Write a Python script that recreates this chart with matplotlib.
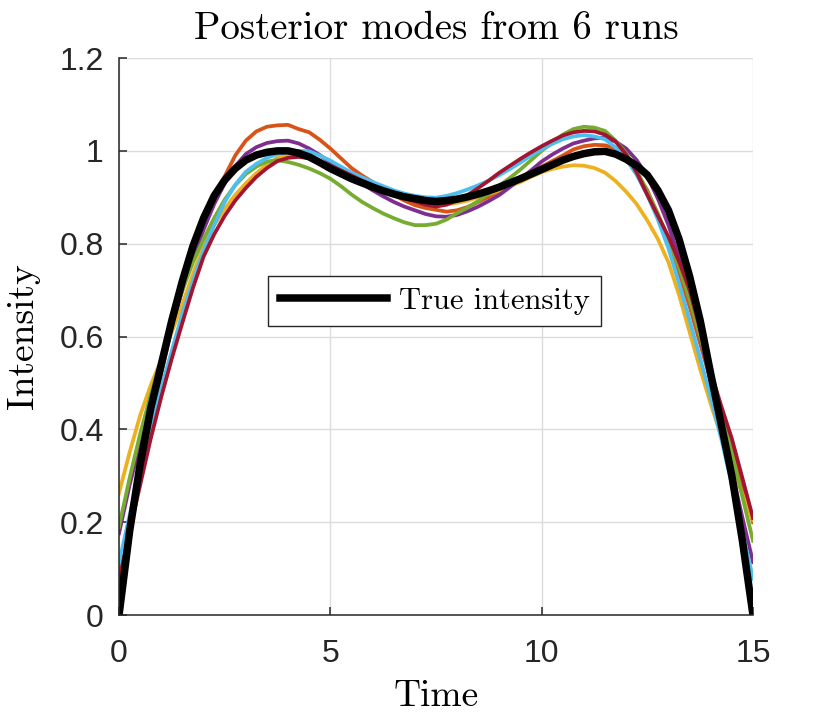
import numpy as np
import matplotlib
matplotlib.use('Agg')
import matplotlib.pyplot as plt
from matplotlib.ticker import FuncFormatter

# time grid of the curves (every 0.25)
t = np.arange(0, 15.001, 0.25)

true_intensity = [0, 0.18, 0.325, 0.445, 0.54, 0.635, 0.72, 0.795, 0.855, 0.903,
                  0.937, 0.962, 0.98, 0.991, 0.997, 1.0, 1.0, 0.995, 0.987, 0.975,
                  0.962, 0.951, 0.94, 0.931, 0.922, 0.914, 0.907, 0.901, 0.897, 0.893,
                  0.891, 0.893, 0.896, 0.901, 0.907, 0.914, 0.922, 0.931, 0.94, 0.95,
                  0.96, 0.97, 0.98, 0.988, 0.994, 0.998, 0.999, 0.993, 0.982, 0.968,
                  0.948, 0.915, 0.872, 0.81, 0.73, 0.635, 0.52, 0.41, 0.3, 0.16, 0]

run_orange = [0.09, 0.20, 0.30, 0.41, 0.52, 0.62, 0.71, 0.785, 0.845, 0.895,
              0.945, 0.99, 1.022, 1.042, 1.052, 1.055, 1.056, 1.047, 1.04, 1.024,
              1.005, 0.984, 0.963, 0.947, 0.933, 0.918, 0.905, 0.893, 0.883, 0.877,
              0.873, 0.869, 0.872, 0.879, 0.89, 0.901, 0.913, 0.928, 0.943, 0.955,
              0.966, 0.978, 0.99, 1.003, 1.01, 1.013, 1.012, 1.005, 0.982, 0.952,
              0.915, 0.862, 0.805, 0.735, 0.665, 0.585, 0.505, 0.43, 0.355, 0.28, 0.2]
run_yellow = [0.263, 0.35, 0.43, 0.495, 0.55, 0.61, 0.67, 0.735, 0.795, 0.84,
              0.875, 0.905, 0.93, 0.952, 0.97, 0.985, 0.99, 0.99, 0.985, 0.977,
              0.968, 0.957, 0.945, 0.935, 0.925, 0.915, 0.906, 0.899, 0.893, 0.888,
              0.884, 0.885, 0.888, 0.893, 0.9, 0.907, 0.915, 0.924, 0.933, 0.944,
              0.954, 0.961, 0.966, 0.969, 0.968, 0.963, 0.953, 0.935, 0.912, 0.885,
              0.85, 0.81, 0.76, 0.69, 0.61, 0.53, 0.455, 0.385, 0.32, 0.26, 0.205]
run_purple = [0.176, 0.28, 0.37, 0.46, 0.545, 0.625, 0.70, 0.77, 0.83, 0.885,
              0.93, 0.967, 0.993, 1.008, 1.017, 1.021, 1.022, 1.016, 1.005, 0.991,
              0.975, 0.96, 0.945, 0.93, 0.915, 0.902, 0.89, 0.88, 0.872, 0.864,
              0.859, 0.858, 0.862, 0.87, 0.88, 0.892, 0.905, 0.922, 0.94, 0.958,
              0.977, 0.992, 1.005, 1.016, 1.022, 1.027, 1.028, 1.02, 1.005, 0.98,
              0.945, 0.897, 0.84, 0.77, 0.69, 0.6, 0.5, 0.405, 0.31, 0.21, 0.114]
run_green = [0.19, 0.295, 0.39, 0.475, 0.55, 0.63, 0.70, 0.76, 0.81, 0.855,
             0.895, 0.926, 0.95, 0.966, 0.977, 0.98, 0.976, 0.97, 0.962, 0.952,
             0.94, 0.924, 0.906, 0.89, 0.877, 0.865, 0.855, 0.846, 0.84, 0.84,
             0.843, 0.852, 0.866, 0.878, 0.892, 0.908, 0.925, 0.942, 0.96, 0.98,
             1.0, 1.018, 1.035, 1.047, 1.052, 1.05, 1.043, 1.022, 0.995, 0.958,
             0.912, 0.865, 0.81, 0.75, 0.68, 0.6, 0.52, 0.435, 0.35, 0.255, 0.16]
run_lightblue = [0.112, 0.215, 0.31, 0.405, 0.49, 0.57, 0.65, 0.72, 0.785, 0.84,
                 0.89, 0.927, 0.955, 0.972, 0.985, 0.993, 0.998, 1.0, 0.999, 0.99,
                 0.979, 0.966, 0.953, 0.943, 0.933, 0.924, 0.915, 0.908, 0.903, 0.9,
                 0.899, 0.903, 0.909, 0.917, 0.926, 0.936, 0.948, 0.961, 0.975, 0.99,
                 1.003, 1.015, 1.025, 1.031, 1.034, 1.031, 1.025, 1.007, 0.982, 0.948,
                 0.905, 0.852, 0.79, 0.715, 0.635, 0.553, 0.47, 0.38, 0.28, 0.18, 0.078]
run_red = [0.072, 0.18, 0.28, 0.38, 0.47, 0.553, 0.63, 0.705, 0.772, 0.82,
           0.86, 0.893, 0.92, 0.944, 0.963, 0.978, 0.985, 0.987, 0.984, 0.977,
           0.968, 0.958, 0.947, 0.936, 0.926, 0.916, 0.907, 0.898, 0.891, 0.884,
           0.88, 0.884, 0.893, 0.905, 0.92, 0.936, 0.953, 0.968, 0.983, 0.997,
           1.01, 1.022, 1.033, 1.04, 1.043, 1.042, 1.035, 1.02, 0.992, 0.953,
           0.905, 0.86, 0.815, 0.762, 0.7, 0.615, 0.525, 0.45, 0.38, 0.295, 0.209]

runs = [run_orange, run_yellow, run_purple, run_green, run_lightblue, run_red]
farben = ['#D95319', '#EDB120', '#7E2F8E', '#77AC30', '#4DBEEE', '#A2142F']

yticks = [0, 0.2, 0.4, 0.6, 0.8, 1, 1.2]
xticks = [0, 5, 10, 15]

plt.rcParams['font.family'] = ['Liberation Sans', 'DejaVu Sans']

fig = plt.figure(figsize=(8.3, 7.2), dpi=100)
ax = fig.add_axes([0.1434, 0.1458, 0.7638, 0.7736])

for r, c in zip(runs, farben):
    ax.plot(t, r, color=c, lw=2.7)
ax.plot(t, true_intensity, color='black', lw=5.4, label='True intensity')

ax.set_xlim(0, 15)
ax.set_ylim(0, 1.2)
ax.set_xticks(xticks)
ax.set_yticks(yticks)
ax.yaxis.set_major_formatter(FuncFormatter(lambda v, p: '%g' % v))
ax.grid(True, color='#dcdcdc', lw=1.0)
ax.set_axisbelow(True)
for s in ['top', 'right']:
    ax.spines[s].set_visible(False)
for s in ['left', 'bottom']:
    ax.spines[s].set_color('#262626')
    ax.spines[s].set_linewidth(1.1)
ax.tick_params(direction='in', length=6, width=1.1, colors='#262626', labelsize=23)
ax.tick_params(axis='x', pad=17)
ax.tick_params(axis='y', pad=11)

ax.set_title('Posterior modes from 6 runs', fontfamily='cmr10', fontsize=28, pad=14)
ax.set_xlabel('Time', fontfamily='cmr10', fontsize=27, labelpad=8)
ax.set_ylabel('Intensity', fontfamily='cmr10', fontsize=27, labelpad=14)

leg = ax.legend(loc='center', bbox_to_anchor=(0.498, 0.564), fancybox=False,
                framealpha=1, edgecolor='#262626', handlelength=3.5,
                prop={'family': 'cmr10', 'size': 22}, borderpad=0.38,
                handletextpad=0.4, borderaxespad=0)
leg.get_frame().set_linewidth(1.0)

fig.savefig('out.png', dpi=100)
